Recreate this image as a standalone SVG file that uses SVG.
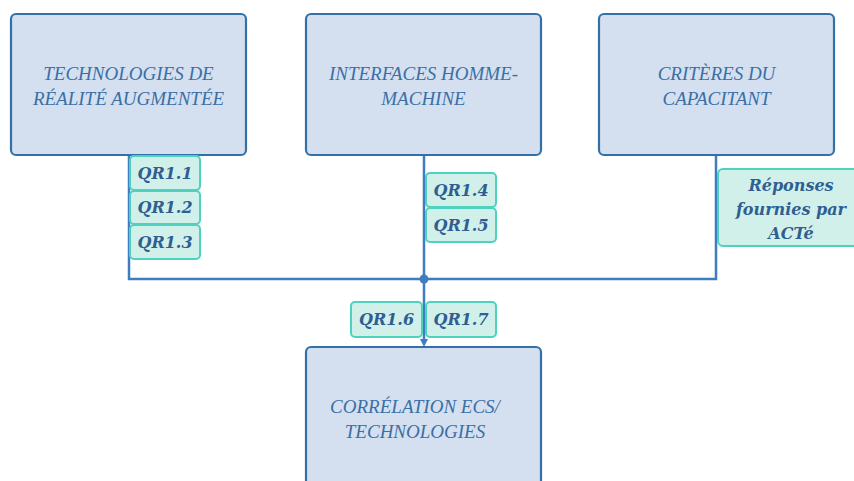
<svg xmlns="http://www.w3.org/2000/svg" width="854" height="481" viewBox="0 0 854 481">
<style>
.node rect{fill:#D4E0EF;stroke:#3470A8;stroke-width:2.2}
.node text{font-family:"Liberation Serif",serif;font-style:italic;font-size:19px;fill:#3A6FA6;text-anchor:middle}
.lab rect{fill:#D2F0EA;stroke:#4FD1C0;stroke-width:2}
.lab text{font-family:"DejaVu Serif","Liberation Serif",serif;font-style:italic;font-weight:bold;font-size:16px;fill:#2F5F92;text-anchor:middle}
.conn{fill:none;stroke:#3F7DC0;stroke-width:2.5}
</style>
<defs>
<marker id="arr" markerWidth="8" markerHeight="8" refX="4" refY="4" orient="auto" markerUnits="userSpaceOnUse"><path d="M0,0 L8,4 L0,8 Z" fill="#3F7DC0"/></marker>
</defs>
<g id="connectors">
<path class="conn" d="M129,155 V279 H716 V155"/>
<path class="conn" d="M424,155 V279"/>
<path class="conn" d="M424,279 V343" marker-end="url(#arr)"/>
<circle cx="424" cy="279" r="4.5" fill="#3F7DC0"/>
</g>
<g id="n1" class="node"><rect x="11" y="14" width="235" height="141" rx="5"/><text x="128.5" y="80">TECHNOLOGIES DE</text><text x="128.5" y="105">RÉALITÉ AUGMENTÉE</text></g>
<g id="n2" class="node"><rect x="306" y="14" width="235" height="141" rx="5"/><text x="423.5" y="80">INTERFACES HOMME-</text><text x="423.5" y="105">MACHINE</text></g>
<g id="n3" class="node"><rect x="599" y="14" width="235" height="141" rx="5"/><text x="716.5" y="80">CRITÈRES DU</text><text x="716.5" y="105">CAPACITANT</text></g>
<g id="n4" class="node"><rect x="306" y="347" width="235" height="150" rx="5"/><text x="415" y="413">CORRÉLATION ECS/</text><text x="415" y="438">TECHNOLOGIES</text></g>
<g id="l1" class="lab"><rect x="130" y="156" width="70" height="34" rx="4"/><text x="165" y="179">QR1.1</text></g>
<g id="l2" class="lab"><rect x="130" y="191" width="70" height="33" rx="4"/><text x="165" y="213">QR1.2</text></g>
<g id="l3" class="lab"><rect x="130" y="225" width="70" height="34" rx="4"/><text x="165" y="248">QR1.3</text></g>
<g id="l4" class="lab"><rect x="426" y="173" width="70" height="34" rx="4"/><text x="461" y="196">QR1.4</text></g>
<g id="l5" class="lab"><rect x="426" y="208" width="70" height="34" rx="4"/><text x="461" y="231">QR1.5</text></g>
<g id="l6" class="lab"><rect x="351" y="302" width="71" height="35" rx="4"/><text x="386.5" y="325">QR1.6</text></g>
<g id="l7" class="lab"><rect x="426" y="302" width="70" height="35" rx="4"/><text x="461" y="325">QR1.7</text></g>
<g id="l8" class="lab"><rect x="718" y="169" width="145" height="77" rx="5"/><text x="791" y="191">Réponses</text><text x="791" y="215">fournies par</text><text x="791" y="239">ACTé</text></g>
</svg>
